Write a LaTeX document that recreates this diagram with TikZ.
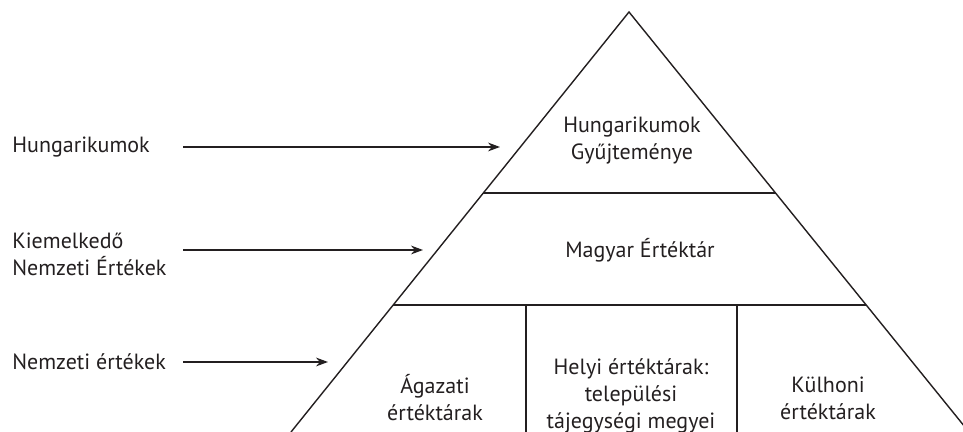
\documentclass[tikz,border=0pt]{standalone}
\usepackage{fontspec}
\setmainfont{PT Sans}
\usetikzlibrary{arrows.meta,calc,positioning}
\definecolor{ink}{HTML}{231F20}
\tikzset{
  side/.style={draw=ink,line width=0.7pt},
  arr/.style={-{Stealth[length=6pt,width=4.4pt]},draw=ink,line width=0.65pt},
  lbl/.style={anchor=west,align=left,inner sep=0pt,text=ink},
  cell/.style={align=center,inner sep=0pt,text=ink},
  every node/.style={font=\fontsize{11}{13.5}\selectfont}
}
\begin{document}
\begin{tikzpicture}[x=0.5pt,y=0.5pt]
\useasboundingbox (0,0) rectangle (963,432);
% pyramid outline (base cut off at the bottom edge)
\coordinate (T) at (629,420);
\coordinate (L) at (291,0);
\coordinate (R) at (969,0);
\draw[side] (L)--(T)--(R);

% levels
\coordinate (L1) at (483,239);
\coordinate (R1) at (776,239);
\coordinate (L2) at (393,127);
\coordinate (R2) at (866,127);
\draw[side] (L1)--(R1);
\draw[side] (L2)--(R2);
\draw[side] (526,127)--(526,0);
\draw[side] (737,127)--(737,0);

% texts inside
\node[cell] (gyujt) at (632,291) {Hungarikumok\\Gyűjteménye};
\node[cell] (tar) at (640,182) {Magyar Értéktár};
\node[cell] (agazati) at (435,34) {Ágazati\\értéktárak};
\node[cell] (helyi) at (631,36) {Helyi értéktárak:\\települési\\tájegységi megyei};
\node[cell] (kulhoni) at (828,34) {Külhoni\\értéktárak};

% labels on the left
\node[lbl] (hung) at (12,285) {Hungarikumok};
\node[lbl] (kiem) at (12,178) {Kiemelkedő\\Nemzeti Értékek};
\node[lbl] (nemz) at (12,70) {Nemzeti értékek};

\coordinate (h0) at (183,285);
\coordinate (h1) at (500,285);
\coordinate (k0) at (183,182);
\coordinate (k1) at (423,182);
\coordinate (n0) at (183,70);
\coordinate (n1) at (328,70);
\draw[arr] (h0)--(h1);
\draw[arr] (k0)--(k1);
\draw[arr] (n0)--(n1);
\end{tikzpicture}
\end{document}
